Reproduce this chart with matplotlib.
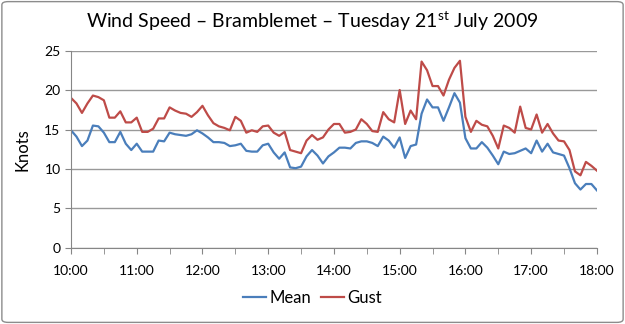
import matplotlib
matplotlib.use("Agg")
import matplotlib.pyplot as plt
import matplotlib.dates as mdates
from matplotlib.patches import FancyBboxPatch
import pandas as pd

plt.rcParams['font.family'] = ['Lato', 'DejaVu Sans']
plt.rcParams['mathtext.fontset'] = 'custom'
plt.rcParams['mathtext.rm'] = 'Lato'

# 5-minute readings, 10:00 to 18:00
times = pd.date_range("2009-07-21 10:00", "2009-07-21 18:00", freq="5min")

mean = [14.9, 14.1, 12.9, 13.6, 15.5, 15.4, 14.6, 13.4, 13.4, 14.7,
        13.2, 12.4, 13.2, 12.2, 12.2, 12.2, 13.6, 13.5, 14.6, 14.4,
        14.3, 14.2, 14.4, 14.9, 14.5, 14.0, 13.4, 13.4, 13.3, 12.9,
        13.0, 13.2, 12.3, 12.2, 12.2, 13.0, 13.2, 12.1, 11.3, 12.1,
        10.2, 10.1, 10.3, 11.6, 12.4, 11.7, 10.7, 11.6, 12.1, 12.7,
        12.7, 12.6, 13.3, 13.5, 13.5, 13.3, 12.9, 14.1, 13.6, 12.7,
        14.0, 11.4, 12.9, 13.1, 17.0, 18.8, 17.8, 17.8, 16.1, 17.8,
        19.6, 18.4, 13.9, 12.6, 12.6, 13.4, 12.7, 11.7, 10.6, 12.2,
        11.9, 12.0, 12.3, 12.6, 12.0, 13.6, 12.2, 13.2, 12.1, 11.9,
        11.7, 10.1, 8.2, 7.4, 8.1, 8.1, 7.3]

gust = [19.0, 18.3, 17.1, 18.3, 19.3, 19.1, 18.7, 16.5, 16.5, 17.3,
        15.9, 15.9, 16.5, 14.7, 14.7, 15.1, 16.4, 16.4, 17.8, 17.4,
        17.1, 17.0, 16.6, 17.2, 18.0, 16.8, 15.8, 15.4, 15.2, 14.9,
        16.6, 16.1, 14.6, 14.9, 14.7, 15.4, 15.5, 14.6, 14.2, 14.7,
        12.4, 12.2, 12.0, 13.6, 14.3, 13.7, 14.0, 15.0, 15.7, 15.7,
        14.6, 14.7, 15.0, 16.3, 15.7, 14.8, 14.7, 17.2, 16.3, 15.9,
        20.0, 15.7, 17.4, 16.3, 23.6, 22.5, 20.5, 20.5, 19.3, 21.3,
        22.8, 23.7, 16.6, 14.7, 16.1, 15.6, 15.4, 14.2, 12.6, 15.5,
        15.2, 14.6, 17.9, 15.2, 15.0, 16.9, 14.6, 15.7, 14.5, 13.6,
        13.5, 12.4, 9.7, 9.2, 10.9, 10.4, 9.8]

fig = plt.figure(figsize=(6.25, 3.24), dpi=100)
ax = fig.add_axes([0.1136, 0.2346, 0.8414, 0.6095])

ax.plot(times, mean, color='#4A7EBB', lw=1.6, label='Mean')
ax.plot(times, gust, color='#BE4B48', lw=1.6, label='Gust')

ax.set_xlim(times[0], times[-1])
ax.set_ylim(0, 25)
ax.set_yticks(range(0, 26, 5))
ax.xaxis.set_major_locator(mdates.HourLocator())
ax.xaxis.set_minor_locator(mdates.MinuteLocator(byminute=[30]))
ax.xaxis.set_major_formatter(mdates.DateFormatter('%H:%M'))

ax.grid(axis='y', color='#999999', lw=1)
ax.set_axisbelow(True)
for s in ['top', 'right']:
    ax.spines[s].set_visible(False)
for s in ['left', 'bottom']:
    ax.spines[s].set_color('#868686')
ax.tick_params(which='both', color='#868686', length=4, labelsize=10)
ax.tick_params(axis='x', pad=8)
ax.set_ylabel('Knots', fontsize=12, labelpad=10)

fig.text(0.5, 0.935, r'Wind Speed – Bramblemet – Tuesday 21$^{\mathrm{st}}$ July 2009',
         ha='center', va='center', fontsize=14)

fig.legend(loc='center', bbox_to_anchor=(0.5, 0.08), ncol=2, frameon=False,
           fontsize=12, handlelength=1.4, handletextpad=0.2, columnspacing=0.6)

fig.patches.append(FancyBboxPatch((0.003, 0.005), 0.994, 0.99,
                                  boxstyle='round,pad=0,rounding_size=0.01',
                                  transform=fig.transFigure, fill=False,
                                  ec='#8c8c8c', lw=1))

fig.savefig('out.png', dpi=100)
